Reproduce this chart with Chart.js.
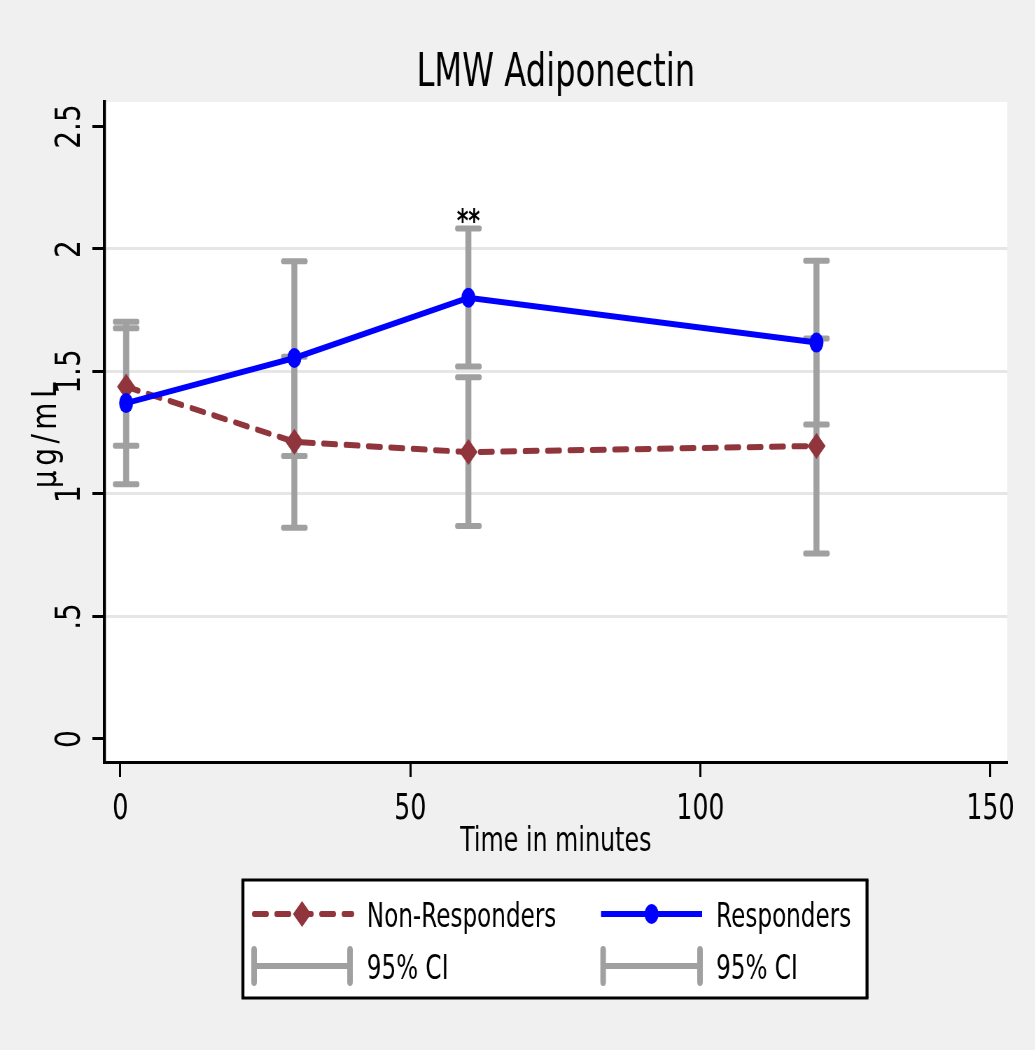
<!DOCTYPE html>
<html>
<head>
<meta charset="utf-8">
<title>LMW Adiponectin</title>
<script src="https://cdn.jsdelivr.net/npm/chart.js@4.4.0/dist/chart.umd.min.js"></script>
<style>
  html, body { margin: 0; padding: 0; overflow: hidden; background: #f0f0f0; }
  /* the figure is drawn wide and squeezed sideways, like the narrow Stata export */
  #wrap { width: 1479px; height: 1050px; transform: scaleX(0.7); transform-origin: 0 0; }
</style>
</head>
<body>
<div id="wrap"><canvas id="myChart" width="1479" height="1050"></canvas></div>
<script>
// values
const times = [1, 30, 60, 120];
const seriesNames = ["Non-Responders", "Responders"];
const nonResp   = [1.438, 1.213, 1.171, 1.196];
const nonRespLo = [1.197, 0.862, 0.869, 0.757];
const nonRespHi = [1.676, 1.560, 1.476, 1.635];
const resp      = [1.371, 1.555, 1.801, 1.618];
const respLo    = [1.040, 1.155, 1.520, 1.284];
const respHi    = [1.703, 1.950, 2.084, 1.952];
const ciLabel = "95% CI";
const xTicks = [0, 50, 100, 150];
const yTicks = [0, 0.5, 1, 1.5, 2, 2.5];
const yTickLabels = ["0", ".5", "1", "1.5", "2", "2.5"];
const starIndex = 2;          // ** above the 60 min responders CI
const starText = "**";
const titleText = "LMW Adiponectin";
const xTitle = "Time in minutes";
const yTitle = "µg/mL";

const FONT = "'DejaVu Sans', sans-serif";
const NR_COLOR = "rgb(144,53,59)";
const R_COLOR = "#0000ff";
const CI_COLOR = "#a0a0a0";

Chart.defaults.font.family = FONT;

function rotText(ctx, txt, x, y, size, squeeze, spacing) {
    ctx.save();
    ctx.translate(x, y);
    ctx.rotate(-Math.PI / 2);
    ctx.scale(squeeze, 1);
    ctx.font = size + "px " + FONT;
    ctx.letterSpacing = spacing || "0px";
    ctx.textAlign = "center";
    ctx.textBaseline = "alphabetic";
    ctx.fillStyle = "#000";
    ctx.fillText(txt, 0, 0);
    ctx.restore();
}

function drawCI(ctx, xs, ys, t, lo, hi) {
    let x = xs.getPixelForValue(t);
    let y1 = ys.getPixelForValue(lo);
    let y2 = ys.getPixelForValue(hi);
    ctx.strokeStyle = CI_COLOR;
    ctx.lineCap = "butt";
    ctx.lineWidth = 8.5;
    ctx.beginPath(); ctx.moveTo(x, y1); ctx.lineTo(x, y2); ctx.stroke();
    ctx.lineCap = "round";
    ctx.lineWidth = 6;
    for (let y of [y1, y2]) {
        ctx.beginPath(); ctx.moveTo(x - 16, y); ctx.lineTo(x + 16, y); ctx.stroke();
    }
}

function diamond(ctx, x, y, r) {
    ctx.beginPath();
    ctx.moveTo(x - r, y); ctx.lineTo(x, y - r); ctx.lineTo(x + r, y); ctx.lineTo(x, y + r);
    ctx.closePath();
    ctx.fill();
}

const statStyle = {
    id: "statStyle",
    beforeDraw(chart) {
        let a = chart.chartArea;
        chart.ctx.save();
        chart.ctx.fillStyle = "#fff";
        chart.ctx.fillRect(a.left, a.top, a.right - a.left, a.bottom - a.top);
        chart.ctx.restore();
    },
    beforeDatasetsDraw(chart) {
        let ctx = chart.ctx, xs = chart.scales.x, ys = chart.scales.y;
        ctx.save();
        for (let i = 0; i < times.length; i++) {
            drawCI(ctx, xs, ys, times[i], nonRespLo[i], nonRespHi[i]);
            drawCI(ctx, xs, ys, times[i], respLo[i], respHi[i]);
        }
        ctx.restore();
    },
    afterDraw(chart) {
        let ctx = chart.ctx, xs = chart.scales.x, ys = chart.scales.y, a = chart.chartArea;
        ctx.save();

        // title
        ctx.fillStyle = "#000";
        ctx.font = "46px " + FONT;
        ctx.textAlign = "center";
        ctx.textBaseline = "alphabetic";
        ctx.fillText(titleText, (a.left + a.right) / 2, 86);

        // ** marker
        ctx.font = "bold 32px " + FONT;
        ctx.fillText(starText, xs.getPixelForValue(times[starIndex]), ys.getPixelForValue(respHi[starIndex]) + 3);

        // y tick labels and y title, vertical
        for (let i = 0; i < yTicks.length; i++) {
            rotText(ctx, yTickLabels[i], 114, ys.getPixelForValue(yTicks[i]), 50, 0.56);
        }
        rotText(ctx, yTitle, 80, 433, 50, 0.56, "8px");

        // legend box
        let lx0 = 347, lx1 = 1238.6, ly0 = 880, ly1 = 998;
        ctx.fillStyle = "#fff";
        ctx.fillRect(lx0, ly0, lx1 - lx0, ly1 - ly0);
        ctx.strokeStyle = "#000";
        ctx.lineCap = "butt";
        ctx.lineWidth = 3;
        ctx.beginPath();
        ctx.moveTo(lx0 - 2, ly0); ctx.lineTo(lx1 + 2, ly0);
        ctx.moveTo(lx0 - 2, ly1); ctx.lineTo(lx1 + 2, ly1);
        ctx.stroke();
        ctx.lineWidth = 4.3;
        ctx.beginPath();
        ctx.moveTo(lx0, ly0); ctx.lineTo(lx0, ly1);
        ctx.moveTo(lx1, ly0); ctx.lineTo(lx1, ly1);
        ctx.stroke();

        let cols = [{x0: 360, x1: 503, tx: 524}, {x0: 858.6, x1: 1003, tx: 1023}];
        let row1 = 914, row2 = 966;

        // Non-Responders sample
        ctx.strokeStyle = NR_COLOR;
        ctx.fillStyle = NR_COLOR;
        ctx.lineWidth = 6;
        ctx.lineCap = "round";
        ctx.setLineDash([18, 14]);
        ctx.beginPath(); ctx.moveTo(cols[0].x0 + 3, row1); ctx.lineTo(cols[0].x1, row1); ctx.stroke();
        ctx.setLineDash([]);
        diamond(ctx, (cols[0].x0 + cols[0].x1) / 2, row1, 13);

        // Responders sample
        ctx.strokeStyle = R_COLOR;
        ctx.fillStyle = R_COLOR;
        ctx.lineCap = "butt";
        ctx.beginPath(); ctx.moveTo(cols[1].x0, row1); ctx.lineTo(cols[1].x1, row1); ctx.stroke();
        ctx.beginPath(); ctx.arc((cols[1].x0 + cols[1].x1) / 2, row1, 10, 0, Math.PI * 2); ctx.fill();

        // CI samples
        ctx.strokeStyle = CI_COLOR;
        for (let c of cols) {
            ctx.lineWidth = 6;
            ctx.lineCap = "butt";
            ctx.beginPath(); ctx.moveTo(c.x0, row2); ctx.lineTo(c.x1, row2); ctx.stroke();
            ctx.lineWidth = 8;
            ctx.lineCap = "round";
            ctx.beginPath();
            ctx.moveTo(c.x0 + 3, row2 - 16); ctx.lineTo(c.x0 + 3, row2 + 16);
            ctx.moveTo(c.x1 - 3, row2 - 16); ctx.lineTo(c.x1 - 3, row2 + 16);
            ctx.stroke();
        }

        // legend text
        ctx.fillStyle = "#000";
        ctx.font = "33px " + FONT;
        ctx.textAlign = "left";
        ctx.fillText(seriesNames[0], cols[0].tx, row1 + 13);
        ctx.fillText(seriesNames[1], cols[1].tx, row1 + 13);
        ctx.fillText(ciLabel, cols[0].tx, row2 + 13);
        ctx.fillText(ciLabel, cols[1].tx, row2 + 13);

        ctx.restore();
    }
};

new Chart("myChart", {
    type: "line",
    data: {
        datasets: [{
            label: seriesNames[0],
            data: times.map((t, i) => ({x: t, y: nonResp[i]})),
            borderColor: NR_COLOR,
            backgroundColor: NR_COLOR,
            borderWidth: 6,
            borderDash: [18, 14],
            borderCapStyle: "round",
            pointStyle: "rectRot",
            pointRadius: 13,
            pointBorderWidth: 0,
            order: 2
        }, {
            label: seriesNames[1],
            data: times.map((t, i) => ({x: t, y: resp[i]})),
            borderColor: R_COLOR,
            backgroundColor: R_COLOR,
            borderWidth: 6,
            pointStyle: "circle",
            pointRadius: 10,
            pointBorderWidth: 0,
            order: 1
        }]
    },
    options: {
        responsive: false,
        animation: false,
        devicePixelRatio: 1,
        layout: { padding: { top: 102, left: 0, right: 40, bottom: 187 } },
        plugins: { legend: { display: false }, tooltip: { enabled: false } },
        scales: {
            x: {
                type: "linear",
                min: -2.76,
                max: 152.9,
                afterBuildTicks: s => { s.ticks = xTicks.map(v => ({value: v})); },
                afterFit: s => { s.height = 101; },
                grid: { drawOnChartArea: false, drawTicks: true, tickLength: 15, tickColor: "#000", tickWidth: 3 },
                border: { color: "#000", width: 3 },
                ticks: { color: "#000", font: { size: 36 }, padding: 11, maxRotation: 0, autoSkip: false },
                title: { display: true, text: xTitle, color: "#000", font: { size: 34 }, padding: 0 }
            },
            y: {
                min: -0.094,
                max: 2.6,
                afterBuildTicks: s => { s.ticks = yTicks.map(v => ({value: v})); },
                afterFit: s => { s.width = 149; },
                grid: {
                    color: c => (c.tick && (c.tick.value === 0 || c.tick.value === 2.5)) ? "rgba(0,0,0,0)" : "#e6e6e6",
                    lineWidth: 3,
                    drawTicks: true,
                    tickLength: 17,
                    tickColor: "#000",
                    tickWidth: 3
                },
                border: { color: "#000", width: 4.3 },
                ticks: { display: false }
            }
        }
    },
    plugins: [statStyle]
});
</script>
</body>
</html>
